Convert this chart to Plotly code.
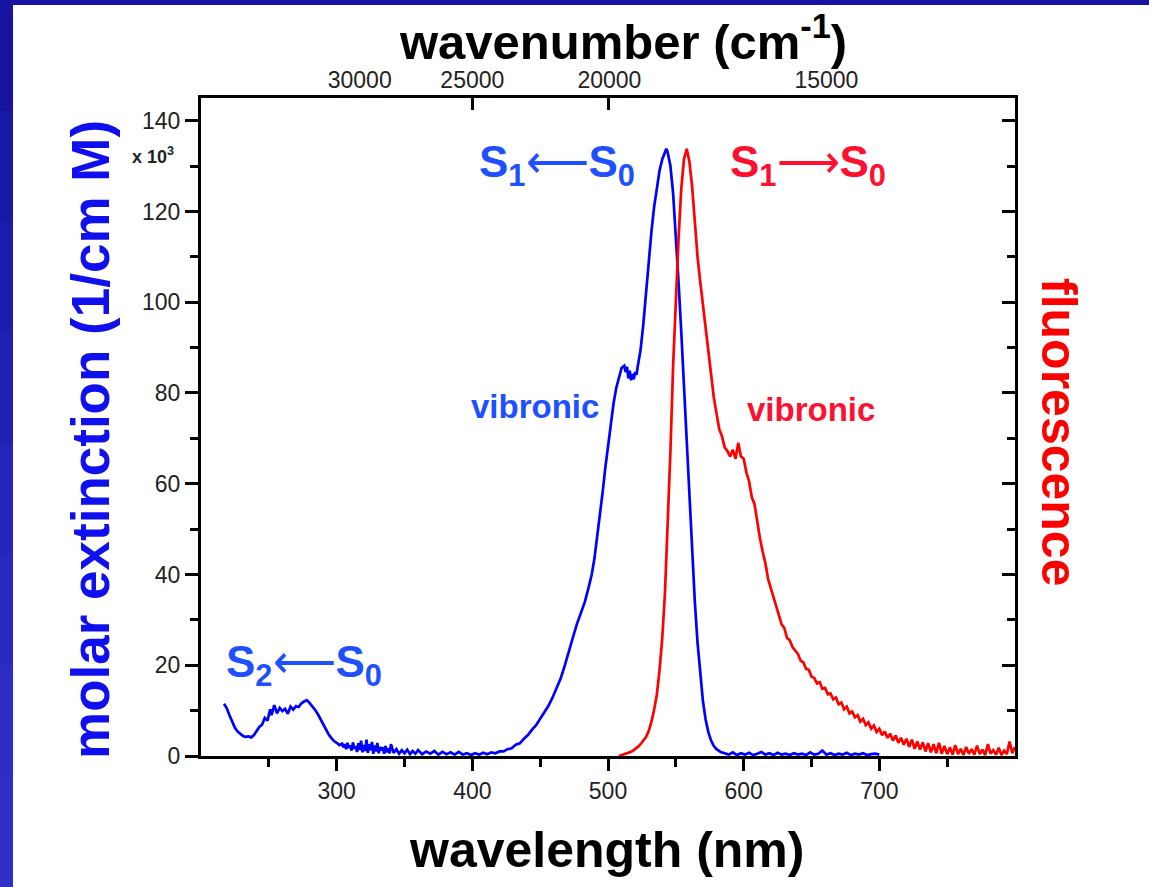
import plotly.graph_objects as go

# ---------------- data ----------------
abs_nm = [217, 219, 221, 223, 225, 227, 229, 231, 233, 235, 237, 239, 241, 243, 245, 247, 249, 251, 252, 254,
          256, 258, 260, 262, 264, 266, 268, 270, 272, 274, 276, 278, 280, 282, 284, 286, 288, 290, 292, 294,
          296, 298, 300, 302, 304, 305, 306, 307, 308, 309, 310, 311, 312, 313, 314, 315, 316, 317, 318, 319,
          320, 321, 322, 323, 324, 325, 326, 327, 328, 329, 330, 331, 332, 333, 334, 335, 336, 337, 338, 339,
          340, 342, 344, 346, 348, 350, 352, 354, 356, 358, 360, 363, 366, 369, 372, 375, 378, 381, 384, 387,
          390, 393, 396, 399, 402, 405, 408, 411, 414, 417, 420, 423, 426, 429, 432, 435, 438, 441, 444, 447,
          450, 453, 456, 459, 462, 465, 468, 471, 474, 477, 480, 483, 486, 488, 490, 492, 494, 496, 498, 500,
          502, 504, 506, 508, 510, 512, 513, 514, 515, 516, 517, 518, 519, 520, 521, 522, 524, 526, 528, 530,
          532, 534, 536, 538, 540, 542, 543, 544, 546, 548, 550, 552, 554, 556, 558, 560, 562, 564, 566, 568,
          570, 572, 574, 576, 578, 580, 583, 586, 589, 592, 595, 598, 601, 604, 607, 610, 613, 616, 619, 622,
          625, 628, 631, 634, 637, 640, 643, 646, 649, 652, 655, 658, 661, 664, 667, 670, 673, 676, 679, 682,
          685, 688, 691, 694, 697, 700]
abs_val = [11.5, 10.5, 9.0, 7.5, 6.2, 5.4, 4.8, 4.4, 4.2, 4.3, 4.1, 4.6, 5.5, 6.4, 6.9, 8.4, 7.8, 10.3, 9.0, 11.2,
           9.4, 10.6, 9.9, 10.4, 9.3, 10.9, 10.2, 11.0, 10.8, 11.6, 12.0, 12.3, 11.7, 11.0, 10.2, 9.3, 8.2, 7.0, 5.8, 4.8,
           4.0, 3.3, 2.9, 2.4, 2.7, 1.9, 2.6, 1.5, 2.9, 1.8, 2.3, 1.2, 3.0, 1.6, 2.2, 0.9, 2.8, 1.3, 3.4, 0.8,
           2.4, 1.1, 3.6, 0.7, 2.6, 1.3, 3.1, 0.5, 2.3, 1.0, 2.9, 0.6, 2.0, 1.2, 1.9, 0.5, 2.2, 0.8, 1.7, 0.6,
           2.6, 0.7, 1.5, 0.5, 1.3, 0.6, 1.4, 0.4, 1.1, 0.5, 1.3, 0.4, 1.0, 0.5, 1.1, 0.3, 0.9, 0.4, 0.8, 0.3,
           0.9, 0.3, 0.6, 0.2, 0.6, 0.3, 0.7, 0.4, 0.8, 0.6, 1.0, 1.0, 1.5, 1.7, 2.5, 2.8, 3.8, 4.6, 5.8, 6.8,
           8.2, 9.6, 11.0, 12.8, 14.8, 17.0, 19.8, 23.2, 26.0, 29.0, 31.5, 34.0, 37.5, 40.0, 43.5, 48.0, 52.5, 58.0, 63.5, 68.5,
           73.0, 77.5, 81.0, 83.5, 85.5, 86.0, 84.6, 85.8, 83.2, 84.9, 82.8, 84.2, 83.0, 84.6, 84.0, 86.0, 89.5, 95.0, 102.0, 109.0,
           115.5, 121.0, 125.5, 129.0, 131.5, 133.2, 133.8, 133.0, 130.0, 124.0, 115.0, 104.5, 93.5, 81.5, 69.0, 56.5, 44.5, 34.0, 25.0, 17.5,
           12.0, 8.0, 5.2, 3.4, 2.2, 1.5, 0.9, 0.6, 0.3, 0.8, 0.2, 0.6, 0.3, 0.7, 0.2, 0.5, 0.9, 0.3, 0.6, 0.2,
           0.7, 0.3, 0.5, 0.2, 0.6, 0.3, 0.5, 0.2, 0.8, 0.3, 0.5, 1.2, 0.3, 0.6, 0.2, 0.5, 0.3, 0.7, 0.2, 0.5,
           0.3, 0.6, 0.2, 0.4, 0.5, 0.3]

fl_nm = list(range(508, 801, 2))
fl_val = [0.0, 0.2, 0.3, 0.5, 0.8, 1.1, 1.5, 2.0, 2.6, 3.3, 4.2, 5.5, 7.5, 10.2, 13.5, 19.0, 26.0, 36.0, 50.0, 67.0,
          86.0, 101.0, 114.0, 125.0, 131.5, 133.8, 131.0, 125.5, 117.0, 110.0, 104.5, 99.5, 94.0, 88.5, 83.5, 79.0, 75.5, 72.0, 70.5, 68.0,
          67.2, 66.0, 67.5, 65.5, 69.0, 66.0, 65.5, 62.5, 60.5, 57.0, 55.5, 51.5, 48.0, 45.0, 42.5, 39.0, 37.0, 35.5, 33.0, 31.5,
          29.0, 28.2, 26.0, 25.5, 24.0, 23.2, 22.5, 21.0, 20.6, 19.2, 19.0, 17.5, 17.2, 16.0, 16.3, 14.8, 15.0, 13.6, 13.8, 12.5,
          12.9, 11.4, 11.8, 10.3, 10.9, 9.4, 9.8, 8.5, 9.0, 7.6, 8.2, 6.8, 7.4, 6.0, 6.7, 5.3, 6.0, 4.6, 5.4, 4.0,
          4.9, 3.4, 4.5, 2.9, 4.0, 2.5, 3.8, 2.0, 3.6, 1.6, 3.2, 1.4, 3.0, 1.0, 2.8, 0.8, 2.6, 0.6, 2.9, 0.5,
          2.2, 0.4, 1.9, 0.3, 2.4, 0.4, 1.6, 0.2, 2.0, 0.5, 1.5, 0.3, 2.3, 0.4, 1.4, 0.2, 2.6, 0.5, 1.3, 0.3,
          1.8, 0.2, 1.2, 0.4, 3.2, 0.6, 2.0]

x_ticks = [300, 400, 500, 600, 700]
x_minor = [250, 350, 450, 550, 650, 750]
y_ticks = [0, 20, 40, 60, 80, 100, 120, 140]
y_minor = [10, 30, 50, 70, 90, 110, 130]
wn_tick_values = [25000, 20000]               # wavenumber tick marks on the top axis
wn_label_text = ["30000", "25000", "20000", "15000"]
wn_label_nm = [317, 400, 501, 661]            # where the labels sit (nm)

# ---------------- layout helpers ----------------
W, H = 1149, 887
L, R, T, B = 201, 134, 98, 131
PW, PH = W - L - R, H - T - B


def fx(px):
    return (px - L) / PW


def fy(py):
    return (H - B - py) / PH


FONT = "Liberation Sans, Arial, sans-serif"
BLUE_LINE = "#0000ff"
RED_LINE = "#ff0000"
BLUE_TXT = "#1e50ff"
RED_TXT = "#ff1030"

fig = go.Figure()
fig.add_trace(go.Scatter(x=abs_nm, y=abs_val, mode="lines",
                         line=dict(color=BLUE_LINE, width=2.7), showlegend=False))
fig.add_trace(go.Scatter(x=fl_nm, y=fl_val, mode="lines",
                         line=dict(color=RED_LINE, width=2.7), showlegend=False))
# invisible traces to activate the extra axes
fig.add_trace(go.Scatter(x=[], y=[], xaxis="x2", yaxis="y2", showlegend=False))
fig.add_trace(go.Scatter(x=[], y=[], xaxis="x3", yaxis="y", showlegend=False))

axis_common = dict(showgrid=False, zeroline=False, showline=True,
                   linecolor="black", linewidth=3, tickcolor="black", tickwidth=2.5)
top_font = dict(size=23, color="#222222")

fig.update_layout(
    width=W, height=H,
    margin=dict(l=L, r=R, t=T, b=B, pad=0),
    paper_bgcolor="white", plot_bgcolor="white",
    font=dict(family=FONT, color="#222222"),
    showlegend=False,
    xaxis=dict(range=[200, 800], tickvals=x_ticks, ticks="outside", ticklen=12,
               tickfont=dict(size=23, color="#222222"),
               minor=dict(tickvals=x_minor, ticks="outside", ticklen=8,
                          tickwidth=2.5, tickcolor="black"),
               **axis_common),
    xaxis2=dict(range=[200, 800], overlaying="x", side="top", anchor="y",
                tickvals=[1e7 / v for v in wn_tick_values],
                ticktext=["" for _ in wn_tick_values],
                ticks="inside", ticklen=12, tickfont=top_font,
                **axis_common),
    xaxis3=dict(range=[200, 800], overlaying="x", side="top", anchor="y",
                tickvals=wn_label_nm, ticktext=wn_label_text, ticks="",
                tickfont=top_font, ticklabelstandoff=4,
                showgrid=False, zeroline=False, showline=False),
    yaxis=dict(range=[0, 145], tickvals=y_ticks, ticks="outside", ticklen=13,
               tickfont=dict(size=23, color="#222222"),
               minor=dict(tickvals=y_minor, ticks="outside", ticklen=8,
                          tickwidth=2.5, tickcolor="black"),
               **axis_common),
    yaxis2=dict(range=[0, 145], overlaying="y", side="right", anchor="x",
                tickvals=y_ticks, ticks="inside", ticklen=13, showticklabels=False,
                minor=dict(tickvals=y_minor, ticks="inside", ticklen=8,
                           tickwidth=2.5, tickcolor="black"),
                **axis_common),
)

# slide-like blue frame
shapes = [dict(type="rect", xref="paper", yref="paper", x0=fx(0), x1=fx(W), y0=fy(5), y1=fy(0),
               fillcolor="#16149e", line=dict(width=0), layer="above")]
band_cols = ["#16149e", "#1a18a6", "#1e1cad", "#2220b4", "#2624ba", "#2a28c0", "#2d2cc5", "#3030c8"]
nb = len(band_cols)
for i, c in enumerate(band_cols):
    y_top = i * H / nb
    y_bot = H if i == nb - 1 else (i + 1) * H / nb + 3
    shapes.append(dict(type="rect", xref="paper", yref="paper", x0=fx(0), x1=fx(13),
                       y0=fy(y_bot), y1=fy(y_top), fillcolor=c, line=dict(width=0), layer="above"))
fig.update_layout(shapes=shapes)


def ann(text, px, py, size, color, angle=0):
    fig.add_annotation(text=text, x=fx(px), y=fy(py),
                       xref="paper", yref="paper", showarrow=False, textangle=angle,
                       xanchor="center", yanchor="middle",
                       font=dict(family=FONT, size=size, color=color))


ann("<b>wavelength (nm)</b>", 606, 850, 50, "black")
ann("<b>wavenumber (cm<sup>-1</sup>)</b>", 623, 38, 49, "black")
ann("<b>molar extinction (1/cm M)</b>", 90, 440, 53, "#1010ee", angle=-90)
ann("<b>fluorescence</b>", 1059, 432, 50, RED_LINE, angle=90)
ann("<b>x 10<sup>3</sup></b>", 153, 155, 18, "#222222")
ann("<b>S<sub>1</sub></b>⟵<b>S<sub>0</sub></b>", 557, 165, 44, BLUE_TXT)
ann("<b>S<sub>1</sub></b>⟶<b>S<sub>0</sub></b>", 808, 165, 44, RED_TXT)
ann("<b>S<sub>2</sub></b>⟵<b>S<sub>0</sub></b>", 304, 665, 44, BLUE_TXT)
ann("<b>vibronic</b>", 535, 406, 33, BLUE_TXT)
ann("<b>vibronic</b>", 811, 409, 33, RED_TXT)

fig.write_html("out.html")
